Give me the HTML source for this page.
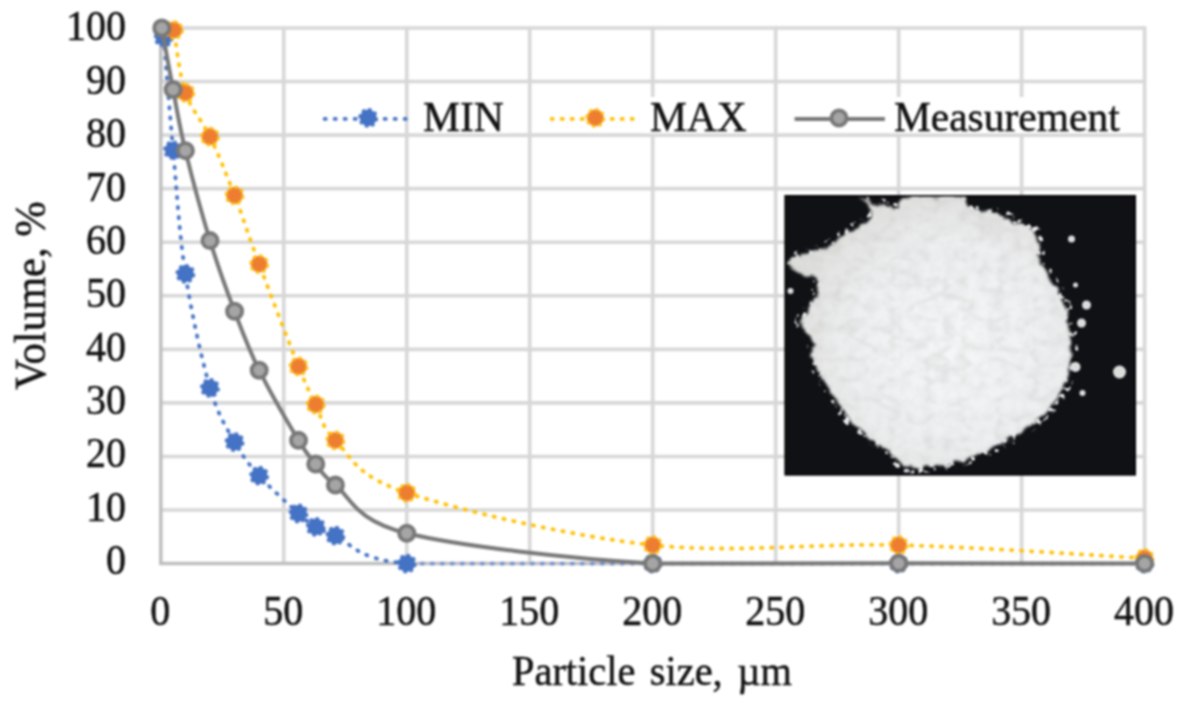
<!DOCTYPE html><html><head><meta charset="utf-8"><style>html,body{margin:0;padding:0;background:#fff;width:1184px;height:704px;overflow:hidden}svg{display:block;filter:blur(0.9px)}text{font-family:"Liberation Serif",serif;fill:#111;font-size:40px;stroke:#111;stroke-width:0.45px}</style></head><body>
<svg width="1184" height="704" viewBox="0 0 1184 704">
<defs><filter id="bl" x="-5%" y="-5%" width="110%" height="110%"><feTurbulence type="fractalNoise" baseFrequency="0.12" numOctaves="2" seed="11" result="n"/><feDisplacementMap in="SourceGraphic" in2="n" scale="9" xChannelSelector="R" yChannelSelector="G"/><feGaussianBlur stdDeviation="0.8"/></filter><filter id="tex" x="0" y="0" width="100%" height="100%"><feTurbulence type="turbulence" baseFrequency="0.028 0.05" numOctaves="3" seed="9"/><feColorMatrix type="matrix" values="0 0 0 0 0.6  0 0 0 0 0.6  0 0 0 0 0.57  -5 0 0 0 1.1"/><feComposite in2="SourceGraphic" operator="in"/><feGaussianBlur stdDeviation="1.2"/></filter><filter id="tex2" x="0" y="0" width="100%" height="100%"><feTurbulence type="fractalNoise" baseFrequency="0.09" numOctaves="3" seed="7"/><feColorMatrix type="matrix" values="0 0 0 0 0.6  0 0 0 0 0.6  0 0 0 0 0.6  0 0 0 -1.6 1.05"/><feComposite in2="SourceGraphic" operator="in"/></filter><filter id="spk" x="0" y="0" width="100%" height="100%"><feTurbulence type="fractalNoise" baseFrequency="0.16" numOctaves="2" seed="5"/><feColorMatrix type="matrix" values="0 0 0 0 0.82  0 0 0 0 0.83  0 0 0 0 0.84  7 0 0 0 -3.9"/><feComposite in2="SourceGraphic" operator="in"/><feGaussianBlur stdDeviation="0.5"/></filter><clipPath id="pc"><rect x="784.5" y="195" width="351.5" height="280.6"/></clipPath><radialGradient id="pg" cx="0.58" cy="0.55" r="0.62"><stop offset="0" stop-color="#f5f7f8"/><stop offset="0.6" stop-color="#edeff0"/><stop offset="1" stop-color="#dcdcd9"/></radialGradient></defs>
<g stroke="#d7d7d7" stroke-width="3.6"><line x1="160.80" y1="509.99" x2="1146.10" y2="509.99"/><line x1="160.80" y1="456.44" x2="1146.10" y2="456.44"/><line x1="160.80" y1="402.88" x2="1146.10" y2="402.88"/><line x1="160.80" y1="349.33" x2="1146.10" y2="349.33"/><line x1="160.80" y1="295.77" x2="1146.10" y2="295.77"/><line x1="160.80" y1="242.22" x2="1146.10" y2="242.22"/><line x1="160.80" y1="188.67" x2="1146.10" y2="188.67"/><line x1="160.80" y1="135.11" x2="1146.10" y2="135.11"/><line x1="160.80" y1="81.56" x2="1146.10" y2="81.56"/><line x1="160.80" y1="28.00" x2="1146.10" y2="28.00"/><line x1="283.77" y1="26.50" x2="283.77" y2="563.55"/><line x1="406.75" y1="26.50" x2="406.75" y2="563.55"/><line x1="529.72" y1="26.50" x2="529.72" y2="563.55"/><line x1="652.70" y1="26.50" x2="652.70" y2="563.55"/><line x1="775.67" y1="26.50" x2="775.67" y2="563.55"/><line x1="898.65" y1="26.50" x2="898.65" y2="563.55"/><line x1="1021.62" y1="26.50" x2="1021.62" y2="563.55"/><line x1="1144.60" y1="26.50" x2="1144.60" y2="563.55"/></g>
<g stroke="#bfbfbf" stroke-width="3.6"><line x1="160.80" y1="26.50" x2="160.80" y2="565.05"/><line x1="159.30" y1="563.55" x2="1146.10" y2="563.55"/></g>
<g clip-path="url(#pc)"><rect x="784.5" y="195" width="351.5" height="280.6" fill="#0f1114"/>
<path d="M858.9,189.0 C859.4,188.7 868.7,198.4 871.5,199.5 C874.3,200.7 879.1,198.1 882.0,198.5 C884.9,198.9 893.5,203.2 895.6,202.7 C897.8,202.2 898.0,195.8 899.9,194.3 C901.7,192.8 908.8,190.9 911.4,190.1 C914.0,189.3 919.5,187.9 921.9,188.0 C924.3,188.1 929.2,190.8 931.4,191.2 C933.5,191.5 937.9,191.5 939.8,191.2 C941.6,190.8 944.3,188.3 947.1,188.0 C949.9,187.7 960.0,187.7 962.9,189.0 C965.7,190.4 969.4,197.7 971.2,199.5 C973.1,201.4 975.7,203.9 978.6,204.8 C981.5,205.7 991.9,206.1 995.4,206.9 C998.9,207.7 1005.2,209.8 1008.0,211.1 C1010.8,212.4 1016.2,216.4 1018.5,217.4 C1020.8,218.4 1024.4,218.2 1026.9,219.5 C1029.4,220.8 1037.5,225.4 1039.5,227.9 C1041.5,230.4 1042.5,237.2 1043.2,240.5 C1043.9,243.8 1044.3,251.7 1045.3,255.2 C1046.3,258.7 1049.8,266.6 1051.6,269.9 C1053.3,273.2 1058.0,279.4 1060.0,282.5 C1062.0,285.6 1066.6,292.5 1068.3,296.1 C1069.9,299.8 1072.4,308.3 1073.5,312.9 C1074.6,317.6 1076.7,329.8 1077.3,335.0 C1077.9,340.2 1078.6,351.2 1078.3,356.0 C1078.1,360.8 1076.2,370.9 1075.2,374.9 C1074.2,378.9 1071.5,386.3 1070.0,389.6 C1068.4,392.9 1064.6,399.3 1062.6,402.2 C1060.6,405.1 1055.8,411.0 1053.2,413.8 C1050.5,416.5 1043.6,422.8 1040.5,425.3 C1037.5,427.8 1031.2,432.5 1028.0,434.8 C1024.7,437.0 1016.8,442.2 1013.2,444.2 C1009.7,446.2 1002.0,449.9 998.5,451.6 C995.1,453.2 988.3,456.3 984.9,457.9 C981.5,459.4 974.0,462.8 970.2,464.1 C966.4,465.5 957.4,468.4 953.4,469.4 C949.4,470.4 940.1,472.2 936.6,472.6 C933.1,472.9 927.0,472.3 924.0,472.6 C921.0,472.8 914.4,475.0 911.4,474.6 C908.4,474.3 901.6,471.3 898.8,469.4 C896.0,467.5 890.8,461.2 888.3,458.9 C885.8,456.6 880.6,452.6 877.8,450.5 C875.0,448.4 868.5,443.6 865.2,441.1 C861.9,438.5 853.5,432.4 850.5,429.5 C847.5,426.6 842.3,420.2 840.0,416.9 C837.7,413.6 833.9,405.7 831.6,402.2 C829.3,398.7 823.4,391.0 821.1,387.5 C818.8,384.0 814.5,376.3 812.7,372.8 C810.9,369.3 807.0,361.4 806.4,358.1 C805.8,354.8 808.0,348.3 807.5,345.5 C806.9,342.7 803.7,337.4 802.2,335.0 C800.7,332.6 795.6,327.7 794.9,325.6 C794.1,323.4 795.0,319.2 795.9,317.1 C796.8,315.1 800.9,310.8 802.2,308.8 C803.5,306.7 805.4,302.4 806.4,300.4 C807.4,298.3 809.8,294.2 810.6,291.9 C811.4,289.7 813.0,283.6 812.7,281.4 C812.4,279.3 810.3,275.2 808.5,274.1 C806.7,273.0 800.8,273.0 798.0,272.0 C795.2,271.0 787.4,267.5 785.4,265.7 C783.4,263.9 780.7,258.8 781.2,257.3 C781.7,255.8 786.8,254.1 789.6,253.1 C792.4,252.1 800.8,249.9 804.3,248.9 C807.8,247.9 816.0,246.0 819.0,244.7 C822.0,243.4 827.0,240.2 829.5,238.4 C832.0,236.6 838.1,231.5 840.0,230.0 C841.9,228.5 843.4,226.8 845.2,225.8 C847.1,224.8 853.4,223.0 855.8,221.6 C858.1,220.2 863.8,216.5 865.2,214.2 C866.6,212.0 868.1,205.7 867.3,202.7 C866.5,199.7 858.4,189.4 858.9,189.0Z" fill="#fff" filter="url(#spk)"/>
<path d="M862.5,196.0 C863.0,195.6 871.9,204.9 874.5,206.0 C877.1,207.1 881.7,204.6 884.5,205.0 C887.3,205.4 895.5,209.5 897.5,209.0 C899.5,208.5 899.7,202.4 901.5,201.0 C903.3,199.6 910.0,197.7 912.5,197.0 C915.0,196.3 920.2,194.9 922.5,195.0 C924.8,195.1 929.5,197.6 931.5,198.0 C933.5,198.4 937.7,198.4 939.5,198.0 C941.3,197.6 943.9,195.2 946.5,195.0 C949.1,194.8 958.7,194.7 961.5,196.0 C964.3,197.3 967.7,204.2 969.5,206.0 C971.3,207.8 973.7,210.2 976.5,211.0 C979.3,211.8 989.1,212.3 992.5,213.0 C995.9,213.7 1001.9,215.8 1004.5,217.0 C1007.1,218.2 1012.3,222.0 1014.5,223.0 C1016.7,224.0 1020.1,223.8 1022.5,225.0 C1024.9,226.2 1032.6,230.6 1034.5,233.0 C1036.4,235.4 1037.3,241.9 1038.0,245.0 C1038.7,248.1 1039.0,255.6 1040.0,259.0 C1041.0,262.4 1044.3,269.9 1046.0,273.0 C1047.7,276.1 1052.1,282.0 1054.0,285.0 C1055.9,288.0 1060.4,294.5 1061.9,298.0 C1063.4,301.5 1065.9,309.6 1066.9,314.0 C1067.9,318.4 1069.9,330.1 1070.5,335.0 C1071.1,339.9 1071.7,350.4 1071.5,355.0 C1071.3,359.6 1069.5,369.2 1068.5,373.0 C1067.5,376.8 1064.9,383.9 1063.5,387.0 C1062.1,390.1 1058.4,396.2 1056.5,399.0 C1054.6,401.8 1050.0,407.4 1047.5,410.0 C1045.0,412.6 1038.4,418.6 1035.5,421.0 C1032.6,423.4 1026.6,427.8 1023.5,430.0 C1020.4,432.2 1012.9,437.1 1009.5,439.0 C1006.1,440.9 998.7,444.4 995.5,446.0 C992.3,447.6 985.7,450.6 982.5,452.0 C979.3,453.4 972.1,456.7 968.5,458.0 C964.9,459.3 956.3,462.0 952.5,463.0 C948.7,464.0 939.9,465.6 936.5,466.0 C933.1,466.4 927.4,465.8 924.5,466.0 C921.6,466.2 915.4,468.4 912.5,468.0 C909.6,467.6 903.1,464.8 900.5,463.0 C897.9,461.2 892.9,455.2 890.5,453.0 C888.1,450.8 883.1,447.0 880.5,445.0 C877.9,443.0 871.6,438.4 868.5,436.0 C865.4,433.6 857.4,427.8 854.5,425.0 C851.6,422.2 846.7,416.1 844.5,413.0 C842.3,409.9 838.7,402.4 836.5,399.0 C834.3,395.6 828.7,388.4 826.5,385.0 C824.3,381.6 820.2,374.4 818.5,371.0 C816.8,367.6 813.1,360.1 812.5,357.0 C811.9,353.9 814.0,347.6 813.5,345.0 C813.0,342.4 809.9,337.3 808.5,335.0 C807.1,332.7 802.2,328.0 801.5,326.0 C800.8,324.0 801.7,319.9 802.5,318.0 C803.3,316.1 807.3,311.9 808.5,310.0 C809.7,308.1 811.5,303.9 812.5,302.0 C813.5,300.1 815.8,296.2 816.5,294.0 C817.2,291.8 818.7,286.0 818.5,284.0 C818.3,282.0 816.2,278.1 814.5,277.0 C812.8,275.9 807.1,276.0 804.5,275.0 C801.9,274.0 794.4,270.7 792.5,269.0 C790.6,267.3 788.0,262.4 788.5,261.0 C789.0,259.6 793.9,258.0 796.5,257.0 C799.1,256.0 807.1,254.0 810.5,253.0 C813.9,252.0 821.6,250.2 824.5,249.0 C827.4,247.8 832.1,244.7 834.5,243.0 C836.9,241.3 842.7,236.4 844.5,235.0 C846.3,233.6 847.7,232.0 849.5,231.0 C851.3,230.0 857.2,228.3 859.5,227.0 C861.8,225.7 867.2,222.2 868.5,220.0 C869.8,217.8 871.2,211.9 870.5,209.0 C869.8,206.1 862.0,196.4 862.5,196.0Z" fill="url(#pg)" filter="url(#bl)"/>
<path d="M862.5,196.0 C863.0,195.6 871.9,204.9 874.5,206.0 C877.1,207.1 881.7,204.6 884.5,205.0 C887.3,205.4 895.5,209.5 897.5,209.0 C899.5,208.5 899.7,202.4 901.5,201.0 C903.3,199.6 910.0,197.7 912.5,197.0 C915.0,196.3 920.2,194.9 922.5,195.0 C924.8,195.1 929.5,197.6 931.5,198.0 C933.5,198.4 937.7,198.4 939.5,198.0 C941.3,197.6 943.9,195.2 946.5,195.0 C949.1,194.8 958.7,194.7 961.5,196.0 C964.3,197.3 967.7,204.2 969.5,206.0 C971.3,207.8 973.7,210.2 976.5,211.0 C979.3,211.8 989.1,212.3 992.5,213.0 C995.9,213.7 1001.9,215.8 1004.5,217.0 C1007.1,218.2 1012.3,222.0 1014.5,223.0 C1016.7,224.0 1020.1,223.8 1022.5,225.0 C1024.9,226.2 1032.6,230.6 1034.5,233.0 C1036.4,235.4 1037.3,241.9 1038.0,245.0 C1038.7,248.1 1039.0,255.6 1040.0,259.0 C1041.0,262.4 1044.3,269.9 1046.0,273.0 C1047.7,276.1 1052.1,282.0 1054.0,285.0 C1055.9,288.0 1060.4,294.5 1061.9,298.0 C1063.4,301.5 1065.9,309.6 1066.9,314.0 C1067.9,318.4 1069.9,330.1 1070.5,335.0 C1071.1,339.9 1071.7,350.4 1071.5,355.0 C1071.3,359.6 1069.5,369.2 1068.5,373.0 C1067.5,376.8 1064.9,383.9 1063.5,387.0 C1062.1,390.1 1058.4,396.2 1056.5,399.0 C1054.6,401.8 1050.0,407.4 1047.5,410.0 C1045.0,412.6 1038.4,418.6 1035.5,421.0 C1032.6,423.4 1026.6,427.8 1023.5,430.0 C1020.4,432.2 1012.9,437.1 1009.5,439.0 C1006.1,440.9 998.7,444.4 995.5,446.0 C992.3,447.6 985.7,450.6 982.5,452.0 C979.3,453.4 972.1,456.7 968.5,458.0 C964.9,459.3 956.3,462.0 952.5,463.0 C948.7,464.0 939.9,465.6 936.5,466.0 C933.1,466.4 927.4,465.8 924.5,466.0 C921.6,466.2 915.4,468.4 912.5,468.0 C909.6,467.6 903.1,464.8 900.5,463.0 C897.9,461.2 892.9,455.2 890.5,453.0 C888.1,450.8 883.1,447.0 880.5,445.0 C877.9,443.0 871.6,438.4 868.5,436.0 C865.4,433.6 857.4,427.8 854.5,425.0 C851.6,422.2 846.7,416.1 844.5,413.0 C842.3,409.9 838.7,402.4 836.5,399.0 C834.3,395.6 828.7,388.4 826.5,385.0 C824.3,381.6 820.2,374.4 818.5,371.0 C816.8,367.6 813.1,360.1 812.5,357.0 C811.9,353.9 814.0,347.6 813.5,345.0 C813.0,342.4 809.9,337.3 808.5,335.0 C807.1,332.7 802.2,328.0 801.5,326.0 C800.8,324.0 801.7,319.9 802.5,318.0 C803.3,316.1 807.3,311.9 808.5,310.0 C809.7,308.1 811.5,303.9 812.5,302.0 C813.5,300.1 815.8,296.2 816.5,294.0 C817.2,291.8 818.7,286.0 818.5,284.0 C818.3,282.0 816.2,278.1 814.5,277.0 C812.8,275.9 807.1,276.0 804.5,275.0 C801.9,274.0 794.4,270.7 792.5,269.0 C790.6,267.3 788.0,262.4 788.5,261.0 C789.0,259.6 793.9,258.0 796.5,257.0 C799.1,256.0 807.1,254.0 810.5,253.0 C813.9,252.0 821.6,250.2 824.5,249.0 C827.4,247.8 832.1,244.7 834.5,243.0 C836.9,241.3 842.7,236.4 844.5,235.0 C846.3,233.6 847.7,232.0 849.5,231.0 C851.3,230.0 857.2,228.3 859.5,227.0 C861.8,225.7 867.2,222.2 868.5,220.0 C869.8,217.8 871.2,211.9 870.5,209.0 C869.8,206.1 862.0,196.4 862.5,196.0Z" fill="#fff" filter="url(#tex2)" opacity="0.3"/>
<path d="M862.5,196.0 C863.0,195.6 871.9,204.9 874.5,206.0 C877.1,207.1 881.7,204.6 884.5,205.0 C887.3,205.4 895.5,209.5 897.5,209.0 C899.5,208.5 899.7,202.4 901.5,201.0 C903.3,199.6 910.0,197.7 912.5,197.0 C915.0,196.3 920.2,194.9 922.5,195.0 C924.8,195.1 929.5,197.6 931.5,198.0 C933.5,198.4 937.7,198.4 939.5,198.0 C941.3,197.6 943.9,195.2 946.5,195.0 C949.1,194.8 958.7,194.7 961.5,196.0 C964.3,197.3 967.7,204.2 969.5,206.0 C971.3,207.8 973.7,210.2 976.5,211.0 C979.3,211.8 989.1,212.3 992.5,213.0 C995.9,213.7 1001.9,215.8 1004.5,217.0 C1007.1,218.2 1012.3,222.0 1014.5,223.0 C1016.7,224.0 1020.1,223.8 1022.5,225.0 C1024.9,226.2 1032.6,230.6 1034.5,233.0 C1036.4,235.4 1037.3,241.9 1038.0,245.0 C1038.7,248.1 1039.0,255.6 1040.0,259.0 C1041.0,262.4 1044.3,269.9 1046.0,273.0 C1047.7,276.1 1052.1,282.0 1054.0,285.0 C1055.9,288.0 1060.4,294.5 1061.9,298.0 C1063.4,301.5 1065.9,309.6 1066.9,314.0 C1067.9,318.4 1069.9,330.1 1070.5,335.0 C1071.1,339.9 1071.7,350.4 1071.5,355.0 C1071.3,359.6 1069.5,369.2 1068.5,373.0 C1067.5,376.8 1064.9,383.9 1063.5,387.0 C1062.1,390.1 1058.4,396.2 1056.5,399.0 C1054.6,401.8 1050.0,407.4 1047.5,410.0 C1045.0,412.6 1038.4,418.6 1035.5,421.0 C1032.6,423.4 1026.6,427.8 1023.5,430.0 C1020.4,432.2 1012.9,437.1 1009.5,439.0 C1006.1,440.9 998.7,444.4 995.5,446.0 C992.3,447.6 985.7,450.6 982.5,452.0 C979.3,453.4 972.1,456.7 968.5,458.0 C964.9,459.3 956.3,462.0 952.5,463.0 C948.7,464.0 939.9,465.6 936.5,466.0 C933.1,466.4 927.4,465.8 924.5,466.0 C921.6,466.2 915.4,468.4 912.5,468.0 C909.6,467.6 903.1,464.8 900.5,463.0 C897.9,461.2 892.9,455.2 890.5,453.0 C888.1,450.8 883.1,447.0 880.5,445.0 C877.9,443.0 871.6,438.4 868.5,436.0 C865.4,433.6 857.4,427.8 854.5,425.0 C851.6,422.2 846.7,416.1 844.5,413.0 C842.3,409.9 838.7,402.4 836.5,399.0 C834.3,395.6 828.7,388.4 826.5,385.0 C824.3,381.6 820.2,374.4 818.5,371.0 C816.8,367.6 813.1,360.1 812.5,357.0 C811.9,353.9 814.0,347.6 813.5,345.0 C813.0,342.4 809.9,337.3 808.5,335.0 C807.1,332.7 802.2,328.0 801.5,326.0 C800.8,324.0 801.7,319.9 802.5,318.0 C803.3,316.1 807.3,311.9 808.5,310.0 C809.7,308.1 811.5,303.9 812.5,302.0 C813.5,300.1 815.8,296.2 816.5,294.0 C817.2,291.8 818.7,286.0 818.5,284.0 C818.3,282.0 816.2,278.1 814.5,277.0 C812.8,275.9 807.1,276.0 804.5,275.0 C801.9,274.0 794.4,270.7 792.5,269.0 C790.6,267.3 788.0,262.4 788.5,261.0 C789.0,259.6 793.9,258.0 796.5,257.0 C799.1,256.0 807.1,254.0 810.5,253.0 C813.9,252.0 821.6,250.2 824.5,249.0 C827.4,247.8 832.1,244.7 834.5,243.0 C836.9,241.3 842.7,236.4 844.5,235.0 C846.3,233.6 847.7,232.0 849.5,231.0 C851.3,230.0 857.2,228.3 859.5,227.0 C861.8,225.7 867.2,222.2 868.5,220.0 C869.8,217.8 871.2,211.9 870.5,209.0 C869.8,206.1 862.0,196.4 862.5,196.0Z" fill="#fff" filter="url(#tex)" opacity="0.42"/>
<circle cx="1119.5" cy="372.0" r="6.5" fill="#dcdddd"/>
<circle cx="1075.5" cy="367.0" r="5.0" fill="#dcdddd"/>
<circle cx="1082.5" cy="393.0" r="3.0" fill="#dcdddd"/>
<circle cx="1086.5" cy="305.0" r="4.5" fill="#dcdddd"/>
<circle cx="1081.5" cy="323.0" r="4.5" fill="#dcdddd"/>
<circle cx="1071.5" cy="239.0" r="3.5" fill="#dcdddd"/>
<circle cx="1075.5" cy="285.0" r="2.5" fill="#dcdddd"/>
<circle cx="790.5" cy="291.0" r="3.0" fill="#dcdddd"/>
<rect x="784.5" y="195" width="351.5" height="280.6" fill="none" stroke="#000" stroke-width="3"/>
</g>
<path d="M163.75,37.64 C165.31,56.38 169.49,110.74 173.10,150.11 C176.70,189.47 179.25,234.19 185.40,273.82 C191.54,313.45 201.79,359.86 209.99,387.89 C218.19,415.92 226.39,427.34 234.59,441.98 C242.78,456.62 248.52,463.80 259.18,475.72 C269.84,487.64 289.10,504.95 298.53,513.48 C307.96,522.00 309.60,523.16 315.75,526.86 C321.90,530.57 320.26,529.59 335.42,535.70 C350.59,541.82 353.87,558.91 406.75,563.55" fill="none" stroke="#4472c4" stroke-width="3.8" stroke-dasharray="1.2 8.8" stroke-linecap="round"/>
<path d="M411.75,563.55 L1144.60,563.55" fill="none" stroke="#7290d0" stroke-width="3.8" stroke-dasharray="1.2 8.8" stroke-linecap="round"/>
<circle cx="163.75" cy="37.64" r="8.4" fill="#4472c4" stroke="#4472c4" stroke-width="3" pathLength="16" stroke-dasharray="1 1"/>
<circle cx="173.10" cy="150.11" r="8.4" fill="#4472c4" stroke="#4472c4" stroke-width="3" pathLength="16" stroke-dasharray="1 1"/>
<circle cx="185.40" cy="273.82" r="8.4" fill="#4472c4" stroke="#4472c4" stroke-width="3" pathLength="16" stroke-dasharray="1 1"/>
<circle cx="209.99" cy="387.89" r="8.4" fill="#4472c4" stroke="#4472c4" stroke-width="3" pathLength="16" stroke-dasharray="1 1"/>
<circle cx="234.59" cy="441.98" r="8.4" fill="#4472c4" stroke="#4472c4" stroke-width="3" pathLength="16" stroke-dasharray="1 1"/>
<circle cx="259.18" cy="475.72" r="8.4" fill="#4472c4" stroke="#4472c4" stroke-width="3" pathLength="16" stroke-dasharray="1 1"/>
<circle cx="298.53" cy="513.48" r="8.4" fill="#4472c4" stroke="#4472c4" stroke-width="3" pathLength="16" stroke-dasharray="1 1"/>
<circle cx="315.75" cy="526.86" r="8.4" fill="#4472c4" stroke="#4472c4" stroke-width="3" pathLength="16" stroke-dasharray="1 1"/>
<circle cx="335.42" cy="535.70" r="8.4" fill="#4472c4" stroke="#4472c4" stroke-width="3" pathLength="16" stroke-dasharray="1 1"/>
<circle cx="406.75" cy="563.55" r="8.4" fill="#4472c4" stroke="#4472c4" stroke-width="3" pathLength="16" stroke-dasharray="1 1"/>
<circle cx="652.70" cy="563.55" r="8.4" fill="#4472c4" stroke="#4472c4" stroke-width="3" pathLength="16" stroke-dasharray="1 1"/>
<circle cx="898.65" cy="563.55" r="8.4" fill="#4472c4" stroke="#4472c4" stroke-width="3" pathLength="16" stroke-dasharray="1 1"/>
<circle cx="1144.60" cy="563.55" r="8.4" fill="#4472c4" stroke="#4472c4" stroke-width="3" pathLength="16" stroke-dasharray="1 1"/>
<path d="M173.84,30.14 C175.76,40.59 179.37,75.04 185.40,92.80 C191.42,110.56 201.79,119.62 209.99,136.72 C218.19,153.81 226.39,174.12 234.59,195.36 C242.78,216.60 248.52,235.66 259.18,264.18 C269.84,292.70 289.10,343.08 298.53,366.47 C307.96,389.85 309.60,392.17 315.75,404.49 C321.90,416.81 320.26,425.65 335.42,440.37 C350.59,455.10 353.87,475.41 406.75,492.86 C459.63,510.31 570.72,536.37 652.70,545.07 C734.68,553.78 816.67,542.89 898.65,545.07 C980.63,547.26 1103.61,556.01 1144.60,558.19" fill="none" stroke="#ffc000" stroke-width="3.8" stroke-dasharray="1.2 8.8" stroke-linecap="round" stroke-dashoffset="5.6"/>
<circle cx="173.84" cy="30.14" r="8.4" fill="#ed7d31" stroke="#ffc000" stroke-width="3" pathLength="16" stroke-dasharray="1 1"/>
<circle cx="185.40" cy="92.80" r="8.4" fill="#ed7d31" stroke="#ffc000" stroke-width="3" pathLength="16" stroke-dasharray="1 1"/>
<circle cx="209.99" cy="136.72" r="8.4" fill="#ed7d31" stroke="#ffc000" stroke-width="3" pathLength="16" stroke-dasharray="1 1"/>
<circle cx="234.59" cy="195.36" r="8.4" fill="#ed7d31" stroke="#ffc000" stroke-width="3" pathLength="16" stroke-dasharray="1 1"/>
<circle cx="259.18" cy="264.18" r="8.4" fill="#ed7d31" stroke="#ffc000" stroke-width="3" pathLength="16" stroke-dasharray="1 1"/>
<circle cx="298.53" cy="366.47" r="8.4" fill="#ed7d31" stroke="#ffc000" stroke-width="3" pathLength="16" stroke-dasharray="1 1"/>
<circle cx="315.75" cy="404.49" r="8.4" fill="#ed7d31" stroke="#ffc000" stroke-width="3" pathLength="16" stroke-dasharray="1 1"/>
<circle cx="335.42" cy="440.37" r="8.4" fill="#ed7d31" stroke="#ffc000" stroke-width="3" pathLength="16" stroke-dasharray="1 1"/>
<circle cx="406.75" cy="492.86" r="8.4" fill="#ed7d31" stroke="#ffc000" stroke-width="3" pathLength="16" stroke-dasharray="1 1"/>
<circle cx="652.70" cy="545.07" r="8.4" fill="#ed7d31" stroke="#ffc000" stroke-width="3" pathLength="16" stroke-dasharray="1 1"/>
<circle cx="898.65" cy="545.07" r="8.4" fill="#ed7d31" stroke="#ffc000" stroke-width="3" pathLength="16" stroke-dasharray="1 1"/>
<circle cx="1144.60" cy="558.19" r="8.4" fill="#ed7d31" stroke="#ffc000" stroke-width="3" pathLength="16" stroke-dasharray="1 1"/>
<path d="M161.78,28.00 C163.67,38.26 169.16,69.15 173.10,89.59 C177.03,110.03 179.25,125.47 185.40,150.64 C191.54,175.81 201.79,213.84 209.99,240.61 C218.19,267.39 226.39,289.71 234.59,311.31 C242.78,332.91 248.52,348.71 259.18,370.22 C269.84,391.73 289.10,424.75 298.53,440.37 C307.96,455.99 309.60,456.48 315.75,463.94 C321.90,471.39 320.26,473.54 335.42,485.09 C350.59,496.64 353.87,520.16 406.75,533.24 C459.63,546.31 570.72,558.54 652.70,563.55 L898.65,563.28 L1144.60,563.55" fill="none" stroke="#787878" stroke-width="4"/>
<circle cx="161.78" cy="28.00" r="7.6" fill="#a5a5a5" stroke="#787878" stroke-width="3.8"/>
<circle cx="173.10" cy="89.59" r="7.6" fill="#a5a5a5" stroke="#787878" stroke-width="3.8"/>
<circle cx="185.40" cy="150.64" r="7.6" fill="#a5a5a5" stroke="#787878" stroke-width="3.8"/>
<circle cx="209.99" cy="240.61" r="7.6" fill="#a5a5a5" stroke="#787878" stroke-width="3.8"/>
<circle cx="234.59" cy="311.31" r="7.6" fill="#a5a5a5" stroke="#787878" stroke-width="3.8"/>
<circle cx="259.18" cy="370.22" r="7.6" fill="#a5a5a5" stroke="#787878" stroke-width="3.8"/>
<circle cx="298.53" cy="440.37" r="7.6" fill="#a5a5a5" stroke="#787878" stroke-width="3.8"/>
<circle cx="315.75" cy="463.94" r="7.6" fill="#a5a5a5" stroke="#787878" stroke-width="3.8"/>
<circle cx="335.42" cy="485.09" r="7.6" fill="#a5a5a5" stroke="#787878" stroke-width="3.8"/>
<circle cx="406.75" cy="533.24" r="7.6" fill="#a5a5a5" stroke="#787878" stroke-width="3.8"/>
<circle cx="652.70" cy="563.55" r="7.6" fill="#a5a5a5" stroke="#787878" stroke-width="3.8"/>
<circle cx="898.65" cy="563.28" r="7.6" fill="#a5a5a5" stroke="#787878" stroke-width="3.8"/>
<circle cx="1144.60" cy="563.55" r="7.6" fill="#a5a5a5" stroke="#787878" stroke-width="3.8"/>
<text transform="translate(126,574.15) scale(1,1.050)" text-anchor="end">0</text>
<text transform="translate(126,520.78) scale(1,1.050)" text-anchor="end">10</text>
<text transform="translate(126,467.41) scale(1,1.050)" text-anchor="end">20</text>
<text transform="translate(126,414.04) scale(1,1.050)" text-anchor="end">30</text>
<text transform="translate(126,360.67) scale(1,1.050)" text-anchor="end">40</text>
<text transform="translate(126,307.30) scale(1,1.050)" text-anchor="end">50</text>
<text transform="translate(126,253.93) scale(1,1.050)" text-anchor="end">60</text>
<text transform="translate(126,200.56) scale(1,1.050)" text-anchor="end">70</text>
<text transform="translate(126,147.19) scale(1,1.050)" text-anchor="end">80</text>
<text transform="translate(126,93.82) scale(1,1.050)" text-anchor="end">90</text>
<text transform="translate(126,40.45) scale(1,1.050)" text-anchor="end">100</text>
<text transform="translate(160.30,625) scale(1,1.050)" text-anchor="middle">0</text>
<text transform="translate(283.27,625) scale(1,1.050)" text-anchor="middle">50</text>
<text transform="translate(406.25,625) scale(1,1.050)" text-anchor="middle">100</text>
<text transform="translate(529.22,625) scale(1,1.050)" text-anchor="middle">150</text>
<text transform="translate(652.20,625) scale(1,1.050)" text-anchor="middle">200</text>
<text transform="translate(775.17,625) scale(1,1.050)" text-anchor="middle">250</text>
<text transform="translate(898.15,625) scale(1,1.050)" text-anchor="middle">300</text>
<text transform="translate(1021.12,625) scale(1,1.050)" text-anchor="middle">350</text>
<text transform="translate(1144.10,625) scale(1,1.050)" text-anchor="middle">400</text>
<text transform="translate(44.5,389.7) rotate(-90) scale(1.065,1.10)">Volume, %</text>
<text transform="translate(512,684.6) scale(1.01,1.06)" word-spacing="4.3">Particle size, µm</text>
<g fill="#fff"><rect x="419" y="97" width="89" height="36.2"/><rect x="645" y="97" width="106" height="36.2"/><rect x="890" y="97" width="234" height="36.2"/></g>
<line x1="324.6" y1="118.9" x2="407" y2="118.9" stroke="#4472c4" stroke-width="3.8" stroke-dasharray="1.2 8.8" stroke-linecap="round"/>
<circle cx="368.20" cy="117.90" r="8.4" fill="#4472c4" stroke="#4472c4" stroke-width="3" pathLength="16" stroke-dasharray="1 1"/>
<text transform="translate(423,131.3) scale(1.04,1.08)">MIN</text>
<line x1="551.6" y1="118.9" x2="635" y2="118.9" stroke="#ffc000" stroke-width="3.8" stroke-dasharray="1.2 8.8" stroke-linecap="round"/>
<circle cx="595.30" cy="117.90" r="8.4" fill="#ed7d31" stroke="#ffc000" stroke-width="3" pathLength="16" stroke-dasharray="1 1"/>
<text transform="translate(650,131.3) scale(1.037,1.08)">MAX</text>
<line x1="794.6" y1="118.9" x2="884.9" y2="118.9" stroke="#787878" stroke-width="4"/>
<circle cx="839.00" cy="118.00" r="7.6" fill="#a5a5a5" stroke="#787878" stroke-width="3.8"/>
<text transform="translate(893.9,131.3) scale(1.0375,1.08)">Measurement</text>
</svg></body></html>
